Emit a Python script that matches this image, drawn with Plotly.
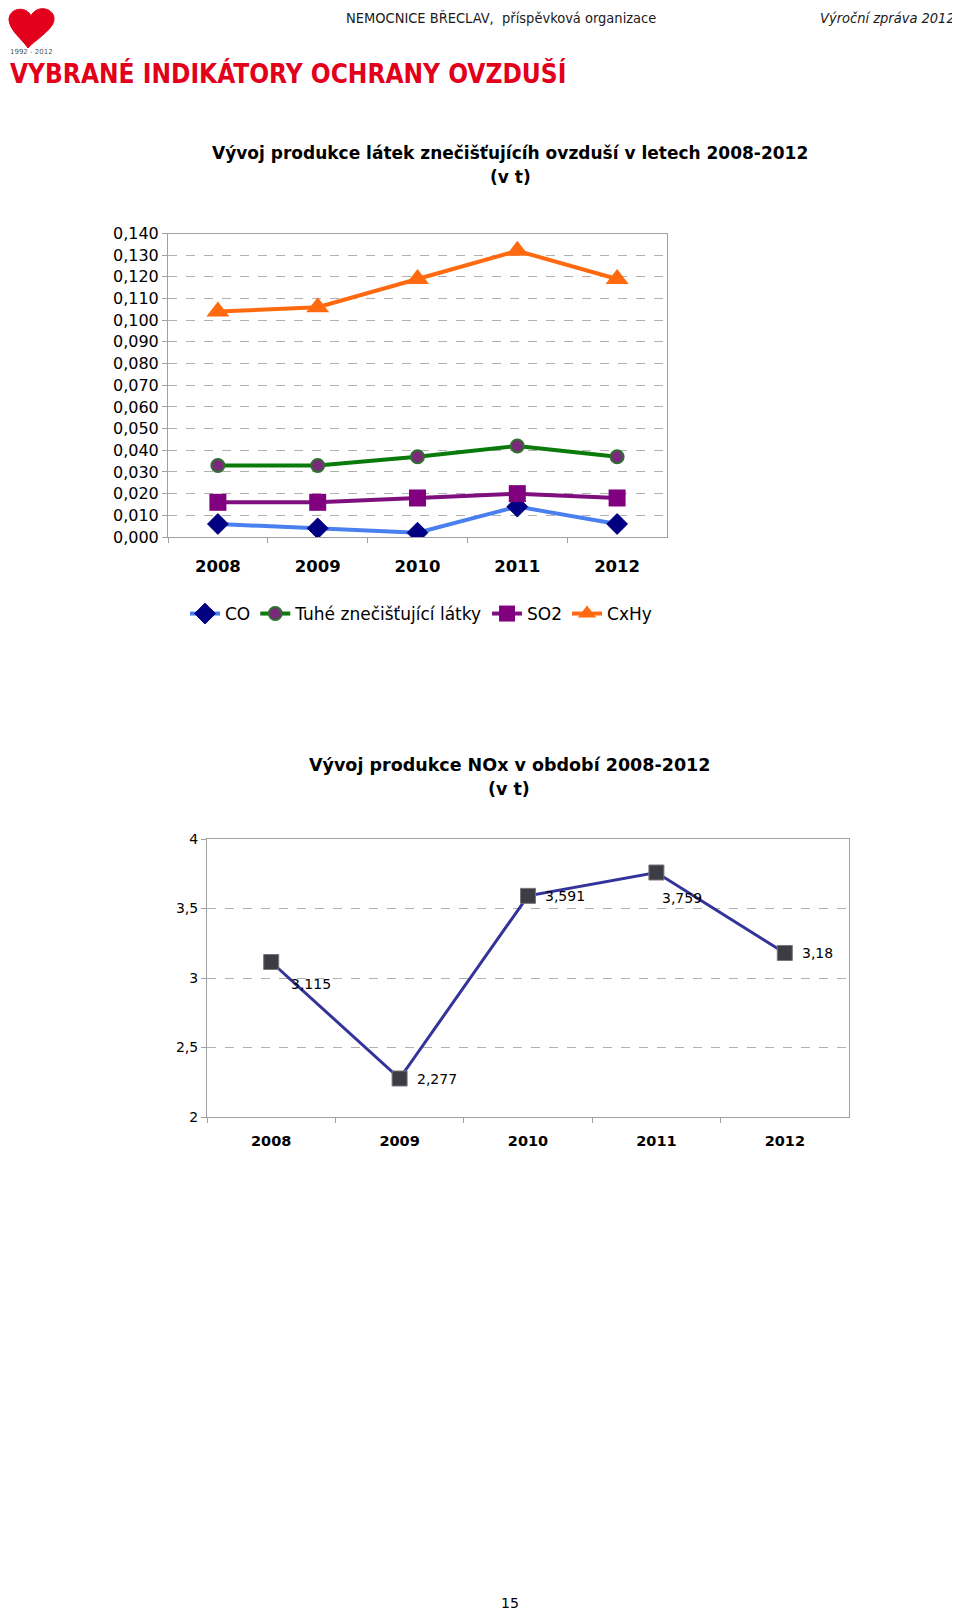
import plotly.graph_objects as go

# page body has an 8px margin, so the figure is sized to fill the rest of the window
OFF = 8
W, H = 960 - OFF, 1614 - OFF

def px(x):
    return (x - OFF) / W

def py(y):
    return 1 - (y - OFF) / H

# ---------------- data ----------------
years = ["2008", "2009", "2010", "2011", "2012"]
co = [0.006, 0.004, 0.002, 0.014, 0.006]
tuhe = [0.033, 0.033, 0.037, 0.042, 0.037]
so2 = [0.016, 0.016, 0.018, 0.020, 0.018]
cxhy = [0.104, 0.106, 0.119, 0.132, 0.119]
nox = [3.115, 2.277, 3.591, 3.759, 3.18]
nox_labels = ["3,115", "2,277", "3,591", "3,759", "3,18"]

header_center = "NEMOCNICE BŘECLAV,  příspěvková organizace"
header_right = "Výroční zpráva 2012"
page_title = "VYBRANÉ INDIKÁTORY OCHRANY OVZDUŠÍ"
title1 = "Vývoj produkce látek znečišťujícíh ovzduší v letech 2008-2012"
title2 = "Vývoj produkce NOx v období 2008-2012"
unit = "(v t)"

FONT = "DejaVu Sans"
NARROW = "Liberation Sans Narrow, DejaVu Sans Condensed, Arial Narrow, sans-serif"

fig = go.Figure()

# chart 1 traces
fig.add_trace(go.Scatter(x=years, y=co, name="CO", mode="lines+markers",
                         line=dict(color="#4a7fef", width=4),
                         marker=dict(symbol="diamond", size=16, color="#000080",
                                     line=dict(color="#000080", width=1)),
                         xaxis="x", yaxis="y"))
fig.add_trace(go.Scatter(x=years, y=tuhe, name="Tuhé znečišťující látky", mode="lines+markers",
                         line=dict(color="#0a7a0a", width=4),
                         marker=dict(symbol="circle", size=13, color="#7a2a7a",
                                     line=dict(color="#2f6f2f", width=2)),
                         xaxis="x", yaxis="y"))
fig.add_trace(go.Scatter(x=years, y=so2, name="SO2", mode="lines+markers",
                         line=dict(color="#7f0f7f", width=4),
                         marker=dict(symbol="square", size=17, color="#800080"),
                         xaxis="x", yaxis="y"))
fig.add_trace(go.Scatter(x=years, y=cxhy, name="CxHy", mode="lines+markers",
                         line=dict(color="#ff6a10", width=4),
                         marker=dict(symbol="triangle-up", size=20, color="#ff6a10"),
                         xaxis="x", yaxis="y"))

# chart 2 trace
fig.add_trace(go.Scatter(x=years, y=nox, name="NOx", mode="lines+markers", showlegend=False,
                         line=dict(color="#333399", width=3),
                         marker=dict(symbol="square", size=15, color="#3c3c44",
                                     line=dict(color="#777777", width=1)),
                         xaxis="x2", yaxis="y2"))

# data labels for chart 2 (category index positions)
label_dx = [18, 15, 15, 4, 15]
label_dy = [-22, 0, 0, -26, 0]
annotations = []
for i, (v, t, dx, dy) in enumerate(zip(nox, nox_labels, label_dx, label_dy)):
    annotations.append(dict(x=i, y=v, xref="x2", yref="y2", text=t, showarrow=False,
                            xanchor="left", yanchor="middle", xshift=dx, yshift=dy,
                            font=dict(family=FONT, size=14, color="#000000")))

# header & titles
annotations += [
    dict(x=px(501), y=1, xref="paper", yref="paper", text=header_center, showarrow=False,
         xanchor="center", yanchor="top", font=dict(family=NARROW, size=14.5, color="#1a1a1a")),
    dict(x=px(957), y=1, xref="paper", yref="paper", text="<i>" + header_right + "</i>", showarrow=False,
         xanchor="right", yanchor="top", font=dict(family=NARROW, size=14.5, color="#1a1a1a")),
    dict(x=px(31), y=py(52), xref="paper", yref="paper", text="1992 - 2012", showarrow=False,
         xanchor="center", yanchor="middle", font=dict(family=FONT, size=7, color="#555555")),
    dict(x=px(8), y=py(74), xref="paper", yref="paper", text="<b>" + page_title + "</b>", showarrow=False,
         xanchor="left", yanchor="middle", font=dict(family=NARROW, size=26, color="#e2001a")),
    dict(x=px(510), y=py(153), xref="paper", yref="paper", text="<b>" + title1 + "</b>", showarrow=False,
         xanchor="center", yanchor="middle", font=dict(family=FONT, size=17, color="#000000")),
    dict(x=px(510), y=py(177), xref="paper", yref="paper", text="<b>" + unit + "</b>", showarrow=False,
         xanchor="center", yanchor="middle", font=dict(family=FONT, size=17, color="#000000")),
    dict(x=px(509), y=py(765), xref="paper", yref="paper", text="<b>" + title2 + "</b>", showarrow=False,
         xanchor="center", yanchor="middle", font=dict(family=FONT, size=17.5, color="#000000")),
    dict(x=px(509), y=py(789), xref="paper", yref="paper", text="<b>" + unit + "</b>", showarrow=False,
         xanchor="center", yanchor="middle", font=dict(family=FONT, size=17.5, color="#000000")),
    dict(x=px(510), y=py(1603), xref="paper", yref="paper", text="15", showarrow=False,
         xanchor="center", yanchor="middle", font=dict(family=FONT, size=14, color="#000000")),
]

# logo (decorative heart)
pts = [(31, 16), (27, 6), (9, 7), (9, 20), (10, 31), (22, 39), (28, 48),
       (36, 39), (55, 29), (54, 18), (53, 7), (36, 5), (31, 16)]
def P(p):
    return f"{px(p[0]):.5f},{py(p[1]):.5f}"
heart = (f"M {P(pts[0])} C {P(pts[1])} {P(pts[2])} {P(pts[3])} "
         f"C {P(pts[4])} {P(pts[5])} {P(pts[6])} C {P(pts[7])} {P(pts[8])} {P(pts[9])} "
         f"C {P(pts[10])} {P(pts[11])} {P(pts[12])} Z")
shapes = [dict(type="path", path=heart, xref="paper", yref="paper",
               fillcolor="#e2001a", line=dict(color="#e2001a", width=1))]

axis_line = "#a0a0a0"
grid = "#b0b0b0"
ncat = len(years)

fig.update_layout(
    template="none",
    width=W, height=H, margin=dict(l=0, r=0, t=0, b=0, pad=0), autosize=False,
    paper_bgcolor="white", plot_bgcolor="white",
    separators=", ",
    font=dict(family=FONT, color="#000000"),
    showlegend=True,
    legend=dict(orientation="h", x=px(421), y=py(614), xanchor="center", yanchor="middle",
                font=dict(family=FONT, size=17, color="#000000"),
                itemwidth=30, tracegroupgap=0, bgcolor="rgba(0,0,0,0)", borderwidth=0),
    xaxis=dict(domain=[px(168), px(667)], anchor="y", type="category", range=[-0.5, ncat - 0.5],
               automargin=False,
               showline=True, mirror=True, linecolor=axis_line, linewidth=1,
               ticks="outside", tickson="boundaries", ticklen=5, tickcolor=axis_line,
               showgrid=False, tickfont=dict(family=FONT, size=16.5, color="#000000"),
               ticklabelstandoff=14, tickangle=0),
    yaxis=dict(domain=[py(537), py(233.5)], anchor="x", range=[0, 0.14], dtick=0.01,
               automargin=False,
               tickformat=".3f", showline=True, mirror=True, linecolor=axis_line, linewidth=1,
               ticks="outside", ticklen=5, tickcolor=axis_line,
               showgrid=True, gridcolor=grid, griddash="dash", gridwidth=1,
               zeroline=False, tickfont=dict(family=FONT, size=16, color="#000000")),
    xaxis2=dict(domain=[px(207), px(849)], anchor="y2", type="category", range=[-0.5, ncat - 0.5],
                automargin=False,
                showline=True, mirror=True, linecolor=axis_line, linewidth=1,
                ticks="outside", tickson="boundaries", ticklen=5, tickcolor=axis_line,
                showgrid=False, tickfont=dict(family=FONT, size=14.5, color="#000000"),
                ticklabelstandoff=11, tickangle=0),
    yaxis2=dict(domain=[py(1117), py(839)], anchor="x2", range=[2, 4], dtick=0.5,
                automargin=False,
                showline=True, mirror=True, linecolor=axis_line, linewidth=1,
                ticks="outside", ticklen=5, tickcolor=axis_line,
                showgrid=True, gridcolor=grid, griddash="dash", gridwidth=1,
                zeroline=False, tickfont=dict(family=FONT, size=14, color="#000000")),
    annotations=annotations,
    shapes=shapes,
)
fig.update_xaxes(tickprefix="<b>", ticksuffix="</b>")

fig.write_html("out.html")
